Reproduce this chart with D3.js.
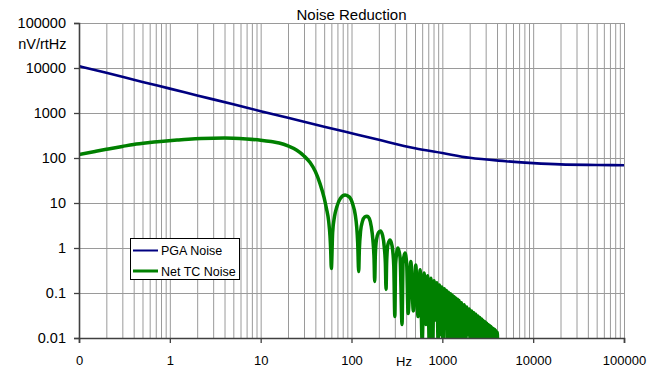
<!DOCTYPE html>
<html>
<head>
<meta charset="utf-8">
<script src="https://cdn.jsdelivr.net/npm/d3@7"></script>
<style>
  body { margin: 0; background: #fff; }
  svg text { font-family: "Liberation Sans", Arial, sans-serif; fill: #000; }
</style>
</head>
<body>
<svg id="chart"></svg>
<script>
// tick values and labels
const xMajor = [0.1, 1, 10, 100, 1000, 10000, 100000];
const xTickLabels = ["0", "1", "10", "100", "1000", "10000", "100000"];
const yMajor = [0.01, 0.1, 1, 10, 100, 1000, 10000, 100000];
const yTickLabels = ["0.01", "0.1", "1", "10", "100", "1000", "10000", "100000"];

// PGA noise (nV/rtHz)
const pgaHz = [0.1, 0.2, 0.5, 1, 2, 5, 10, 20, 50, 100, 200, 500, 1000, 2000, 5000, 10000, 20000, 50000, 100000];
const pgaNoise = [11000, 7800, 4900, 3480, 2460, 1560, 1100, 780, 496, 354, 253, 165, 129, 101, 85, 77, 72, 70, 69];

// Net TC noise: smooth part then the 60 Hz comb
const tcHz = [
  0.1, 0.15, 0.2, 0.3, 0.4, 0.6, 0.85, 1.2, 1.6, 2.2, 3, 4, 5, 7, 10, 13, 16, 20, 25, 30, 35, 40, 45, 50, 53, 56, 58, 59, 60,
  62, 65, 69, 75, 85, 95, 103, 110, 114, 117, 120,
  122, 126, 132, 140, 148, 157, 165, 172, 177, 180,
  183, 188, 198, 208, 220, 230, 236, 240,
  244, 252, 266, 280, 292, 300,
  306, 325, 343, 360,
  370, 388, 405, 420,
  450, 480, 510, 540, 570, 600, 630, 660, 690, 720, 750, 780, 810, 840, 870, 900, 930, 960, 990, 1020,
  1050, 1080, 1110, 1140, 1170, 1200, 1230, 1260, 1290, 1320, 1350, 1380, 1410, 1440, 1470, 1500, 1530, 1560,
  1620, 1680, 1740, 1800, 1860, 1920, 1980, 2040, 2100, 2160, 2220, 2280, 2340, 2400, 2460, 2520, 2580, 2640,
  2700, 2760, 2820, 2880, 2940, 3000, 3060, 3120, 3180, 3240, 3300, 3360, 3420, 3480, 3540, 3600, 3660, 3720,
  3780, 3840, 3900, 3960, 4020, 4090
];
const tcNoise = [
  120, 140, 156, 181, 200, 220, 235, 250, 262, 272, 276, 277, 275, 265, 249, 232, 215, 185, 148, 111, 79, 50, 27, 13, 7.5, 4, 1.8, 0.9, 0.35,
  2.2, 5, 8.3, 12.5, 15, 13.5, 9.5, 5.5, 3, 1.3, 0.3,
  0.9, 2.4, 3.9, 4.9, 5.1, 4.5, 3, 1.5, 0.6, 0.18,
  0.7, 1.5, 2.2, 2.4, 1.9, 1.0, 0.45, 0.12,
  0.5, 1.2, 1.5, 1.1, 0.4, 0.03,
  0.45, 1.0, 0.6, 0.02,
  0.5, 0.77, 0.45, 0.035,
  0.5, 0.04, 0.42, 0.03, 0.33, 0.008, 0.28, 0.02, 0.243, 0.006, 0.213, 0.005, 0.188, 0.025, 0.168, 0.007, 0.151, 0.012, 0.136, 0.004,
  0.124, 0.02, 0.114, 0.006, 0.104, 0.004, 0.096, 0.015, 0.089, 0.005, 0.083, 0.004, 0.0775, 0.018, 0.0725, 0.006, 0.068, 0.004,
  0.061, 0.008, 0.055, 0.005, 0.049, 0.012, 0.044, 0.004, 0.040, 0.006, 0.0365, 0.005, 0.0335, 0.010, 0.031, 0.004, 0.0285, 0.006,
  0.0265, 0.004, 0.0245, 0.009, 0.023, 0.004, 0.0215, 0.005, 0.020, 0.004, 0.019, 0.008, 0.018, 0.004, 0.017, 0.005, 0.016, 0.004,
  0.0155, 0.007, 0.0145, 0.004, 0.0135, 0.003
];

const width = 663, height = 369;
const plotLeft = 79, plotRight = 624, plotTop = 23, plotBottom = 338;

const svg = d3.select("#chart")
  .attr("width", width)
  .attr("height", height);

const x = d3.scaleLog().domain([0.1, 100000]).range([plotLeft, plotRight]);
const y = d3.scaleLog().domain([0.01, 100000]).range([plotBottom, plotTop]);

// gridlines
svg.append("g")
  .attr("transform", `translate(0,${plotBottom})`)
  .call(d3.axisBottom(x).tickValues(x.ticks(20)).tickSize(-(plotBottom - plotTop)).tickFormat(""))
  .call(g => g.select(".domain").remove())
  .call(g => g.selectAll("line").attr("stroke", "#9a9a9a"));

svg.append("g")
  .attr("transform", `translate(${plotLeft},0)`)
  .call(d3.axisLeft(y).tickValues(yMajor).tickSize(-(plotRight - plotLeft)).tickFormat(""))
  .call(g => g.select(".domain").remove())
  .call(g => g.selectAll("line").attr("stroke", "#9a9a9a"));

// series
svg.append("clipPath").attr("id", "plot")
  .append("rect").attr("x", plotLeft).attr("y", plotTop)
  .attr("width", plotRight - plotLeft).attr("height", plotBottom - plotTop);

const line = d3.line()
  .x(d => x(d[0]))
  .y(d => y(d[1]))
  .curve(d3.curveMonotoneX);

svg.append("path")
  .datum(d3.zip(tcHz, tcNoise))
  .attr("clip-path", "url(#plot)")
  .attr("fill", "none")
  .attr("stroke", "#008000")
  .attr("stroke-width", 3.5)
  .attr("stroke-linejoin", "round")
  .attr("d", line);

svg.append("path")
  .datum(d3.zip(pgaHz, pgaNoise))
  .attr("clip-path", "url(#plot)")
  .attr("fill", "none")
  .attr("stroke", "#000080")
  .attr("stroke-width", 2.6)
  .attr("d", line);

// axes
svg.append("g")
  .attr("transform", `translate(0,${plotBottom})`)
  .call(d3.axisBottom(x).tickValues(xMajor).tickSize(5).tickPadding(12.5)
    .tickFormat((d, i) => xTickLabels[i]))
  .call(g => g.select(".domain").attr("stroke", "#404040").attr("stroke-width", 1.6))
  .call(g => g.selectAll("line").attr("stroke", "#404040").attr("stroke-width", 1.3))
  .call(g => g.selectAll("text").style("font-size", "13px"));

svg.append("g")
  .attr("transform", `translate(${plotLeft},0)`)
  .call(d3.axisLeft(y).tickValues(yMajor).tickSize(5).tickPadding(8)
    .tickFormat((d, i) => yTickLabels[i]))
  .call(g => g.select(".domain").attr("stroke", "#404040").attr("stroke-width", 1.6))
  .call(g => g.selectAll("line").attr("stroke", "#404040").attr("stroke-width", 1.3))
  .call(g => g.selectAll("text").style("font-size", "14.5px"));

svg.selectAll(".tick text").attr("fill", "#000").style("font-family", "'Liberation Sans', Arial, sans-serif");

// titles
svg.append("text")
  .attr("x", (plotLeft + plotRight) / 2)
  .attr("y", 19.5)
  .attr("text-anchor", "middle")
  .style("font-size", "15px")
  .text("Noise Reduction");

svg.append("text")
  .attr("x", 66.5)
  .attr("y", 49)
  .attr("text-anchor", "end")
  .style("font-size", "14.5px")
  .text("nV/rtHz");

svg.append("text")
  .attr("x", 404)
  .attr("y", 365.5)
  .attr("text-anchor", "middle")
  .style("font-size", "13px")
  .text("Hz");

// legend
const legendItems = [
  { name: "PGA Noise", color: "#000080", w: 2 },
  { name: "Net TC Noise", color: "#008000", w: 3 }
];

const legend = svg.append("g");
legend.append("rect")
  .attr("x", 130.5).attr("y", 238.5)
  .attr("width", 109).attr("height", 41)
  .attr("fill", "#fff").attr("stroke", "#000").attr("stroke-width", 1);

const item = legend.selectAll(".item")
  .data(legendItems)
  .enter().append("g")
  .attr("transform", (d, i) => `translate(0,${250.5 + i * 20.5})`);

item.append("line")
  .attr("x1", 133).attr("x2", 158)
  .attr("stroke", d => d.color)
  .attr("stroke-width", d => d.w);

item.append("text")
  .attr("x", 161)
  .attr("y", 4.5)
  .style("font-size", "12.5px")
  .text(d => d.name);
</script>
</body>
</html>
